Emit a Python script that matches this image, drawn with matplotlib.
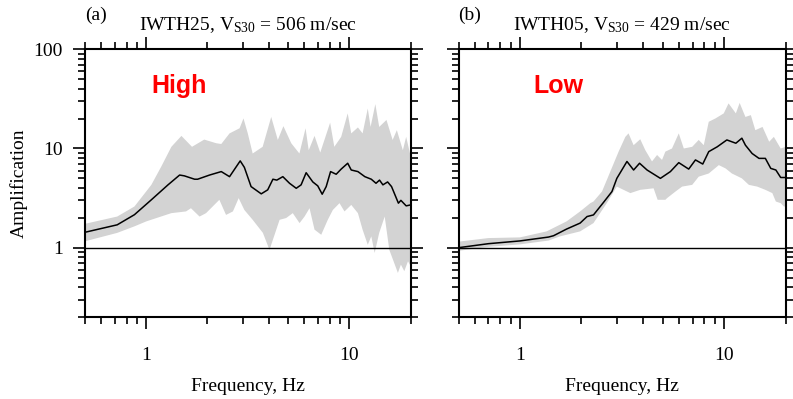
import numpy as np
import matplotlib
matplotlib.use("Agg")
import matplotlib.pyplot as plt
from matplotlib.ticker import LogLocator, NullFormatter, FixedLocator, FixedFormatter

plt.rcParams['font.family'] = ['Liberation Serif', 'DejaVu Serif']
plt.rcParams['mathtext.fontset'] = 'custom'
plt.rcParams['mathtext.rm'] = 'Liberation Serif'
plt.rcParams['mathtext.it'] = 'Liberation Serif:italic'

# panel (a) IWTH25 : mean amplification
freq_a = [0.5, 0.72, 0.875, 1.06, 1.28, 1.46, 1.54, 1.73, 1.79, 2.05, 2.34, 2.57, 2.9, 3.04,
          3.28, 3.68, 3.96, 4.2, 4.39, 4.7, 5.07, 5.47, 5.78, 6.12, 6.6, 6.98, 7.34, 7.68,
          8.07, 8.6, 9.1, 9.8, 10.2, 11.0, 11.9, 12.8, 13.5, 14.05, 14.6, 15.4, 16.1, 16.6,
          17.4, 17.9, 19.0, 20]
amp_a = [1.43, 1.7, 2.15, 3.04, 4.3, 5.4, 5.3, 4.9, 4.9, 5.4, 5.85, 5.2, 7.5, 6.45,
         4.13, 3.49, 3.83, 4.9, 4.8, 5.2, 4.46, 3.97, 4.3, 5.7, 4.6, 4.2, 3.46, 4.13,
         5.85, 5.5, 6.2, 7.1, 6.07, 5.85, 5.2, 4.9, 4.46, 4.8, 4.3, 4.6, 4.13, 3.55,
         2.81, 3.0, 2.64, 2.7]
# panel (a) band: upper and lower edges
fu_a = [0.5, 0.72, 0.875, 1.06, 1.185, 1.33, 1.49, 1.68, 1.93, 2.21, 2.34, 2.57, 2.88, 3.01,
        3.16, 3.34, 3.74, 4.12, 4.44, 4.73, 5.17, 5.67, 6.08, 6.3, 6.73, 7.18, 8.03, 8.42,
        9.1, 9.8, 10.2, 11.0, 11.6, 12.3, 12.7, 13.4, 14.0, 15.2, 16.3, 17.1, 18.3, 19.0, 20]
au_a = [1.74, 2.06, 2.6, 4.3, 6.55, 10.4, 13.4, 10.4, 12.3, 11.3, 11.1, 14.2, 16, 20.1,
        14.2, 8.9, 10.4, 20.8, 12.2, 16.8, 11.3, 8.9, 16, 9.6, 13.4, 9.1, 18.2, 10.4,
        13.1, 22.6, 14.2, 16.3, 14.2, 25.3, 16.5, 28, 16.5, 19.4, 12.2, 15.3, 9.6, 13.1, 8.3]
fl_a = [0.5, 0.72, 0.875, 1.0, 1.33, 1.57, 1.66, 1.83, 1.97, 2.29, 2.47, 2.67, 2.85, 3.04,
        3.34, 3.75, 4.04, 4.28, 4.53, 4.88, 5.26, 5.68, 6.01, 6.36, 6.73, 7.26, 7.82, 8.28,
        8.93, 9.45, 10.2, 11.0, 11.6, 12.3, 12.8, 13.3, 14.0, 14.9, 15.7, 16.6, 17.3, 17.9,
        18.6, 19.4, 20]
al_a = [1.16, 1.41, 1.64, 1.84, 2.23, 2.32, 2.5, 2.06, 2.23, 3.04, 2.14, 2.32, 3.16, 2.4,
        1.91, 1.41, 0.95, 1.35, 1.91, 1.99, 2.23, 1.77, 2.06, 2.5, 1.52, 1.35, 1.91, 2.4,
        2.81, 2.32, 2.7, 2.23, 1.52, 1.07, 1.3, 0.885, 1.41, 2.06, 0.95, 0.7, 0.557, 0.675,
        0.58, 0.73, 0.65]

# panel (b) IWTH05
freq_b = [0.5, 0.7, 1.0, 1.38, 1.46, 1.69, 1.97, 2.13, 2.29, 2.56, 2.82, 2.98, 3.34, 3.6,
          3.85, 4.19, 4.87, 5.45, 5.99, 6.7, 7.23, 7.85, 8.4, 9.24, 10.3, 11.4, 12.2, 12.7,
          13.7, 14.8, 15.9, 16.9, 17.9, 18.9, 20]
amp_b = [1.0, 1.097, 1.17, 1.28, 1.32, 1.54, 1.77, 2.06, 2.14, 2.85, 3.68, 5.0, 7.4, 6.07,
         7.1, 6.07, 5.0, 5.85, 7.2, 6.2, 7.67, 6.97, 9.3, 10.4, 12.2, 11.3, 12.7, 10.8,
         8.9, 7.95, 7.95, 6.3, 6.07, 5.1, 5.1]
fu_b = [0.5, 0.7, 1.0, 1.35, 1.69, 1.97, 2.21, 2.29, 2.52, 2.66, 3.04, 3.28, 3.4, 3.6,
        3.88, 4.11, 4.43, 4.69, 4.96, 5.15, 5.55, 5.99, 6.34, 6.97, 7.5, 7.94, 8.4, 9.06,
        9.95, 10.5, 11.4, 11.9, 12.7, 13.5, 14.2, 15.4, 16.6, 17.5, 18.9, 20]
au_b = [1.15, 1.25, 1.27, 1.46, 1.84, 2.32, 2.81, 2.92, 3.68, 4.8, 9.3, 13.1, 14.2, 10.8,
        12.4, 9.6, 7.4, 8.6, 7.67, 9.3, 10.0, 14.2, 10.0, 10.4, 12.2, 10.8, 18.6, 20.1,
        22.6, 28.5, 22.6, 28.8, 20.8, 21.7, 15.3, 16.5, 11.7, 13.1, 10.0, 10.4]
fl_b = [0.5, 0.7, 1.0, 1.38, 1.57, 1.97, 2.29, 2.66, 2.98, 3.47, 3.88, 4.51, 4.72, 5.15,
        5.25, 5.77, 6.22, 6.97, 7.5, 8.4, 9.41, 10.15, 10.9, 12.2, 13.2, 14.5, 15.9, 17.2,
        17.9, 18.9, 19.6, 20]
al_b = [0.93, 1.02, 1.08, 1.18, 1.3, 1.46, 1.77, 2.81, 4.13, 3.55, 3.83, 3.97, 3.04, 3.04,
        3.16, 3.68, 4.13, 4.3, 5.2, 5.6, 6.8, 6.3, 5.6, 5.0, 4.3, 4.13, 3.83, 3.55,
        2.92, 2.81, 2.6, 2.6]

panels = [
    dict(freq=freq_a, amp=amp_a, fu=fu_a, au=au_a, fl=fl_a, al=al_a, tag='(a)',
         title=r'IWTH25, V$_{\mathrm{S30}}$ = 506 m/sec', word='High', wx=0.205),
    dict(freq=freq_b, amp=amp_b, fu=fu_b, au=au_b, fl=fl_b, al=al_b, tag='(b)',
         title=r'IWTH05, V$_{\mathrm{S30}}$ = 429 m/sec', word='Low', wx=0.228),
]

fig = plt.figure(figsize=(7.93, 3.99), dpi=100)
rects = [[0.1072, 0.2055, 0.4107, 0.6709], [0.5782, 0.2055, 0.4126, 0.6709]]

for i, p in enumerate(panels):
    ax = fig.add_axes(rects[i])
    ax.set_xscale('log')
    ax.set_yscale('log')
    ax.fill(np.concatenate([p['fu'], p['fl'][::-1]]),
            np.concatenate([p['au'], p['al'][::-1]]),
            color='#d3d3d3', lw=0, zorder=1)
    ax.plot(p['freq'], p['amp'], color='black', lw=1.1, zorder=3)
    ax.axhline(1, color='black', lw=1.0, zorder=2)
    ax.set_xlim(0.5, 20)
    ax.set_ylim(0.2, 100)

    ax.xaxis.set_major_locator(FixedLocator([1, 10]))
    ax.xaxis.set_major_formatter(FixedFormatter(['1', '10']))
    ax.xaxis.set_minor_locator(LogLocator(base=10, subs=np.arange(2, 10)))
    ax.xaxis.set_minor_formatter(NullFormatter())
    ax.yaxis.set_major_locator(FixedLocator([1, 10, 100]))
    ax.yaxis.set_major_formatter(FixedFormatter(['1', '10', '100']))
    ax.yaxis.set_minor_locator(LogLocator(base=10, subs=np.arange(2, 10)))
    ax.yaxis.set_minor_formatter(NullFormatter())

    ax.tick_params(which='both', direction='out', top=True, right=True, width=1.2)
    ax.tick_params(which='major', length=8.5, labelsize=14)
    ax.tick_params(which='minor', length=5)
    ax.tick_params(axis='x', which='major', pad=13)
    ax.tick_params(axis='y', which='major', pad=7.5)
    if i == 1:
        ax.tick_params(axis='y', labelleft=False)
    else:
        ax.set_ylabel('Amplification', fontsize=14, labelpad=4)
    for s in ax.spines.values():
        s.set_linewidth(1.5)

    ax.set_xlabel('Frequency, Hz', fontsize=14, labelpad=10)
    ax.set_title(p['title'], fontsize=14, pad=14)
    ax.text(p['wx'], 0.862, p['word'], transform=ax.transAxes, color='red',
            fontsize=18, fontweight='bold', family='Liberation Sans', va='center')
    fig.text(rects[i][0], 0.962, p['tag'], fontsize=14, va='center', ha='left')

fig.savefig('out.png', dpi=100)
